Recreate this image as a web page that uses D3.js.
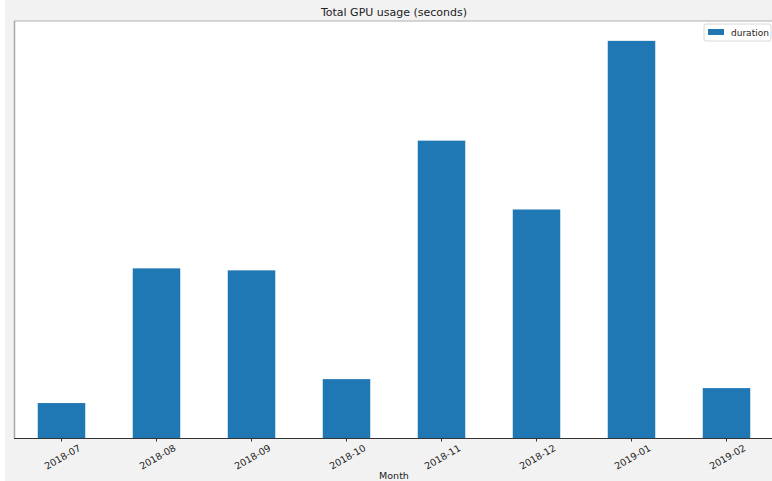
<!DOCTYPE html>
<html><head><meta charset="utf-8">
<script src="https://cdn.jsdelivr.net/npm/d3@7"></script>
<style>html,body{margin:0;padding:0;background:#f2f2f2;}svg{display:block;}</style>
</head><body>
<script>
const months = ["2018-07","2018-08","2018-09","2018-10","2018-11","2018-12","2019-01","2019-02"];
const duration = [35, 170, 168, 59, 298, 229, 398, 50];
const seriesName = "duration";
const titleText = "Total GPU usage (seconds)";
const xLabel = "Month";

const W = 772, H = 481;
const m = {left: 14, top: 21, right: -2, bottom: 43};
const svg = d3.select("body").append("svg").attr("width", W).attr("height", H);
svg.append("rect").attr("width", W).attr("height", H).attr("fill", "#f2f2f2");
svg.append("rect").attr("width", 5).attr("height", H).attr("fill", "#ffffff");

const x = d3.scaleBand().domain(months).range([m.left, W - m.right]).paddingInner(0.5).paddingOuter(0.25);
const y = d3.scaleLinear().domain([0, d3.max(duration) * 1.05]).range([H - m.bottom, m.top]);

svg.append("rect").attr("x", m.left).attr("y", m.top).attr("width", W - m.left - m.right).attr("height", H - m.top - m.bottom).attr("fill", "#ffffff");

svg.selectAll(".bar").data(months).enter().append("rect")
  .attr("x", d => x(d)).attr("width", x.bandwidth())
  .attr("y", (d, i) => y(duration[i])).attr("height", (d, i) => y(0) - y(duration[i]))
  .attr("fill", "#1f77b4");

// spines
svg.append("line").attr("x1", m.left).attr("x2", W).attr("y1", m.top).attr("y2", m.top).attr("stroke", "#b0b0b0").attr("stroke-width", 1.2);
svg.append("line").attr("x1", m.left + 0.5).attr("x2", m.left + 0.5).attr("y1", m.top).attr("y2", H - m.bottom).attr("stroke", "#a8a8a8").attr("stroke-width", 1.5);

const xAxis = svg.append("g").attr("transform", `translate(0,${H - m.bottom})`)
  .call(d3.axisBottom(x).tickSizeOuter(0).tickSize(3.5));
xAxis.select(".domain").attr("stroke", "#333").attr("stroke-width", 1).attr("d", `M${m.left},0.5H${W}`);
xAxis.selectAll(".tick line").attr("stroke", "#333");
xAxis.selectAll(".tick text")
  .attr("font-family", "DejaVu Sans, sans-serif").attr("font-size", 9.5).attr("fill", "#222")
  .attr("text-anchor", "end").attr("dy", null).attr("y", 0)
  .attr("transform", "translate(20,12) rotate(-30)");

svg.append("text").attr("x", 394).attr("y", 479)
  .attr("text-anchor", "middle").attr("font-family", "DejaVu Sans, sans-serif").attr("font-size", 9.5).attr("fill", "#222").text(xLabel);

svg.append("text").attr("x", 394).attr("y", 16)
  .attr("text-anchor", "middle").attr("font-family", "DejaVu Sans, sans-serif").attr("font-size", 11).attr("fill", "#222").text(titleText);

// legend
const lg = svg.append("g").attr("transform", "translate(704,24)");
lg.append("rect").attr("width", 67).attr("height", 17).attr("fill", "#fff").attr("stroke", "#d8d8d8").attr("rx", 2);
lg.append("rect").attr("x", 4).attr("y", 5).attr("width", 16).attr("height", 6).attr("fill", "#1f77b4");
lg.append("text").attr("x", 27).attr("y", 12).attr("font-family", "DejaVu Sans, sans-serif").attr("font-size", 9).attr("fill", "#222").text(seriesName);
</script>
</body></html>
